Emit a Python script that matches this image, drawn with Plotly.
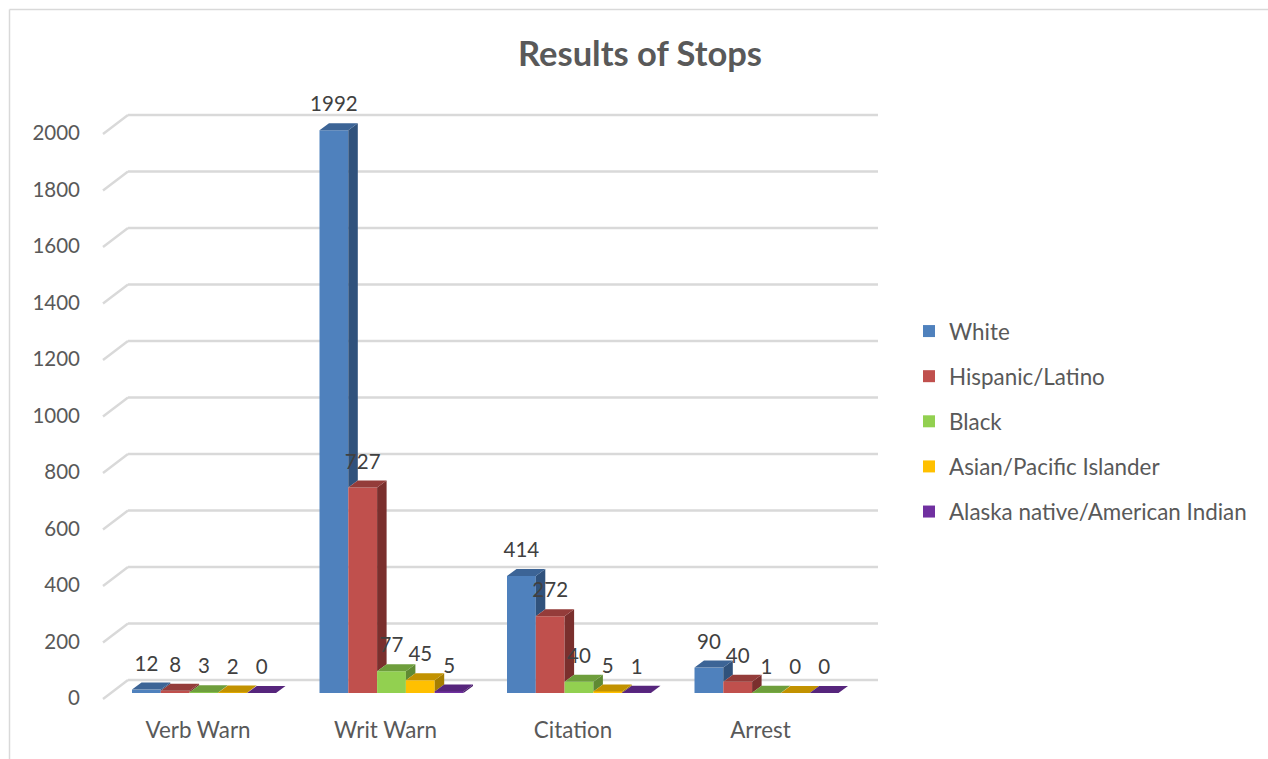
import plotly.graph_objects as go

categories = ["Verb Warn", "Writ Warn", "Citation", "Arrest"]
white = [12, 1992, 414, 90]
hispanic = [8, 727, 272, 40]
black = [3, 77, 40, 1]
asian = [2, 45, 5, 0]
native = [0, 5, 1, 0]
series_names = ["White", "Hispanic/Latino", "Black", "Asian/Pacific Islander",
                "Alaska native/American Indian"]
y_ticks = [0, 200, 400, 600, 800, 1000, 1200, 1400, 1600, 1800, 2000]
front_colors = ["#4F81BD", "#C0504D", "#92D050", "#FFC000", "#7030A0"]
top_colors = ["#3C6496", "#943C3A", "#6E9E3C", "#C29200", "#56257C"]
side_colors = ["#30527C", "#7A2F2D", "#5F8A33", "#A67E00", "#4A1F6B"]

W, H = 1268, 759
PL, PR, PT, PB = 100, 900, 90, 712   # plot rectangle, px
CAT_PX = 187.5
Y_PX = 0.2825                        # px per unit
X0_PX, Y0_PX = 204, 693              # group centre of first category, value 0
BAR_PX = 28.8


def dx(px):
    return px / CAT_PX


def dy(px):
    return px / Y_PX


values = [white, hispanic, black, asian, native]
n_series = len(values)
bw = dx(BAR_PX)
depth_x, depth_y = dx(9.5), dy(7)

fig = go.Figure()

# front faces
for s, vals in enumerate(values):
    xs = [c + (s - (n_series - 1) / 2) * bw for c in range(len(categories))]
    fig.add_trace(go.Bar(x=xs, y=vals, width=bw, name=series_names[s],
                         legendgroup=series_names[s],
                         marker=dict(color=front_colors[s], line=dict(width=0)),
                         hoverinfo="name+y"))

# top and side faces, from the same values
for s, vals in enumerate(values):
    top_x, top_y, side_x, side_y = [], [], [], []
    for c, v in enumerate(vals):
        xl = c + (s - n_series / 2) * bw
        xr = xl + bw
        nxt = values[s + 1][c] if s + 1 < n_series else 0
        top_x += [xl, xr, xr + depth_x, xl + depth_x, xl, None]
        top_y += [v, v, v + depth_y, v + depth_y, v, None]
        side_x += [xr, xr + depth_x, xr + depth_x, xr, xr, None]
        side_y += [v, v + depth_y, nxt + depth_y, nxt, v, None]
    for px_, py_, col in ((side_x, side_y, side_colors[s]), (top_x, top_y, top_colors[s])):
        fig.add_trace(go.Scatter(x=px_, y=py_, mode="lines", fill="toself", fillcolor=col,
                                 line=dict(width=0, color=col), hoverinfo="skip",
                                 showlegend=False, legendgroup=series_names[s]))

# value labels
for s, vals in enumerate(values):
    xs = [c + (s - (n_series - 1) / 2) * bw for c in range(len(categories))]
    fig.add_trace(go.Scatter(x=xs, y=[v + dy(24) for v in vals], mode="text",
                             text=[str(v) for v in vals], textposition="middle center",
                             textfont=dict(family="Lato", size=20.5, color="#404040"),
                             hoverinfo="skip", showlegend=False))

# back wall gridlines and side-wall diagonals
grid = dict(color="#D9D9D9", width=2.4)
back_l = dx(128 - X0_PX)
back_r = dx(878 - X0_PX)
front_l = dx(103 - X0_PX)
shapes = []
for t in y_ticks:
    back = t + dy(13)
    front = t - dy(6)
    shapes.append(dict(type="line", xref="x", yref="y", x0=back_l, x1=back_r, y0=back, y1=back,
                       line=grid, layer="below"))
    shapes.append(dict(type="line", xref="x", yref="y", x0=front_l, x1=back_l, y0=front, y1=back,
                       line=grid, layer="below"))

# chart-area frame
frame = dict(color="#D9D9D9", width=1.5)
frame_top = (PB - 9.5) / (PB - PT)
frame_left = (9.5 - PL) / (PR - PL)
shapes.append(dict(type="line", xref="paper", yref="paper",
                   x0=frame_left, x1=(W - PL) / (PR - PL),
                   y0=frame_top, y1=frame_top, line=frame))
shapes.append(dict(type="line", xref="paper", yref="paper",
                   x0=frame_left, x1=frame_left,
                   y0=frame_top, y1=(PB - H) / (PB - PT), line=frame))

fig.update_layout(
    width=W, height=H, autosize=False,
    margin=dict(l=PL, r=W - PR, t=PT, b=H - PB, pad=0),
    paper_bgcolor="white", plot_bgcolor="rgba(0,0,0,0)",
    font=dict(family="Lato", color="#595959"),
    title=dict(text="<b>Results of Stops</b>", x=640 / W, xanchor="center",
               y=1 - 54 / H, yanchor="middle",
               font=dict(family="Lato", size=34.5, color="#595959")),
    barmode="overlay", showlegend=True,
    xaxis=dict(range=[dx(PL - X0_PX), dx(PR - X0_PX)], tickmode="array",
               tickvals=list(range(len(categories))), ticktext=categories,
               showgrid=False, zeroline=False, showline=False, ticks="",
               ticklabelshift=-6, ticklabelstandoff=3,
               tickfont=dict(family="Lato", size=22.4, color="#595959")),
    yaxis=dict(range=[dy(Y0_PX - PB), dy(Y0_PX - PT)], tickmode="array",
               tickvals=y_ticks, ticktext=[str(t) for t in y_ticks],
               showgrid=False, zeroline=False, showline=False, ticks="",
               ticklabelshift=5, ticklabelstandoff=19,
               tickfont=dict(family="Lato", size=20.5, color="#595959")),
    legend=dict(x=(909 - PL) / (PR - PL), xanchor="left",
                y=(PB - 310) / (PB - PT), yanchor="top",
                tracegroupgap=13, itemclick=False, itemdoubleclick=False,
                bgcolor="rgba(0,0,0,0)",
                font=dict(family="Lato", size=22.4, color="#595959")),
    shapes=shapes,
)

fig.write_html("out.html", config=dict(displayModeBar=False),
               post_script="document.body.style.margin='0';")
